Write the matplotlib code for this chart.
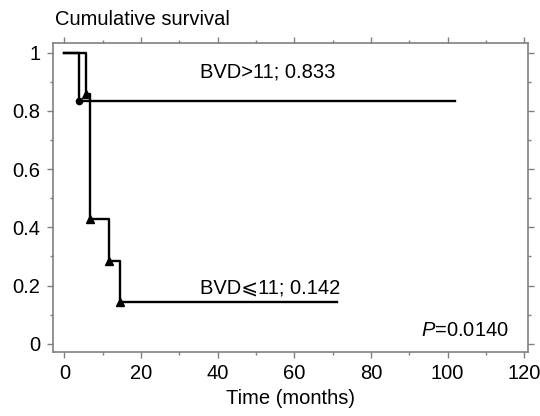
import matplotlib
matplotlib.use("Agg")
import matplotlib.pyplot as plt
from matplotlib.ticker import MultipleLocator, FormatStrFormatter

plt.rcParams["font.family"] = ["Liberation Sans", "DejaVu Sans"]
plt.rcParams["mathtext.fontset"] = "custom"
plt.rcParams["mathtext.it"] = "Liberation Sans:italic"
plt.rcParams["mathtext.rm"] = "Liberation Sans"

# Kaplan-Meier steps
hi_t = [0, 3.8, 102]            # BVD > 11
hi_s = [1.0, 0.833, 0.833]
hi_mark_t = [3.8]
hi_mark_s = [0.833]

lo_t = [0, 5.6, 6.6, 11.6, 14.5, 71]   # BVD <= 11
lo_s = [1.0, 0.857, 0.428, 0.286, 0.143, 0.143]
lo_mark_t = [5.6, 6.6, 11.6, 14.5]
lo_mark_s = [0.857, 0.428, 0.286, 0.143]

x_ticks = [0, 20, 40, 60, 80, 100, 120]
y_ticks = [0, 0.2, 0.4, 0.6, 0.8, 1.0]

FS = 14.5

fig = plt.figure(figsize=(5.4, 4.16), dpi=100)
ax = fig.add_axes([0.098, 0.154, 0.88, 0.743])

ax.step(hi_t, hi_s, where="post", color="black", lw=1.7)
ax.plot(hi_mark_t, hi_mark_s, "o", color="black", ms=4.5)
ax.step(lo_t, lo_s, where="post", color="black", lw=1.7)
ax.plot(lo_mark_t, lo_mark_s, "^", color="black", ms=5.5)

ax.set_xlim(-3, 121)
ax.set_ylim(-0.028, 1.034)
ax.set_xticks(x_ticks)
ax.set_yticks(y_ticks)
ax.xaxis.set_minor_locator(MultipleLocator(10))
ax.yaxis.set_minor_locator(MultipleLocator(0.1))
ax.yaxis.set_major_formatter(FormatStrFormatter("%g"))

for s in ax.spines.values():
    s.set_color("#808080")
    s.set_linewidth(1.2)
ax.tick_params(which="both", direction="out", color="#808080", width=1,
               labelsize=FS, top=True, right=True)
ax.tick_params(which="major", length=4, pad=5)
ax.tick_params(which="minor", length=2.5)
ax.tick_params(which="both", axis="x", top=True, labeltop=False)
ax.tick_params(which="both", axis="y", right=True, labelright=False)

ax.set_xlabel("Time (months)", fontsize=FS, labelpad=4)
fig.text(0.102, 0.952, "Cumulative survival", fontsize=FS, va="center")

ax.text(53, 0.935, "BVD>11; 0.833", fontsize=FS, ha="center", va="center")
ax.text(72, 0.19, "BVD\u2a7d11; 0.142", fontsize=FS, ha="right", va="center")
ax.text(116, 0.045, "$P$=0.0140", fontsize=FS, ha="right", va="center")

fig.savefig("out.png", dpi=100)
